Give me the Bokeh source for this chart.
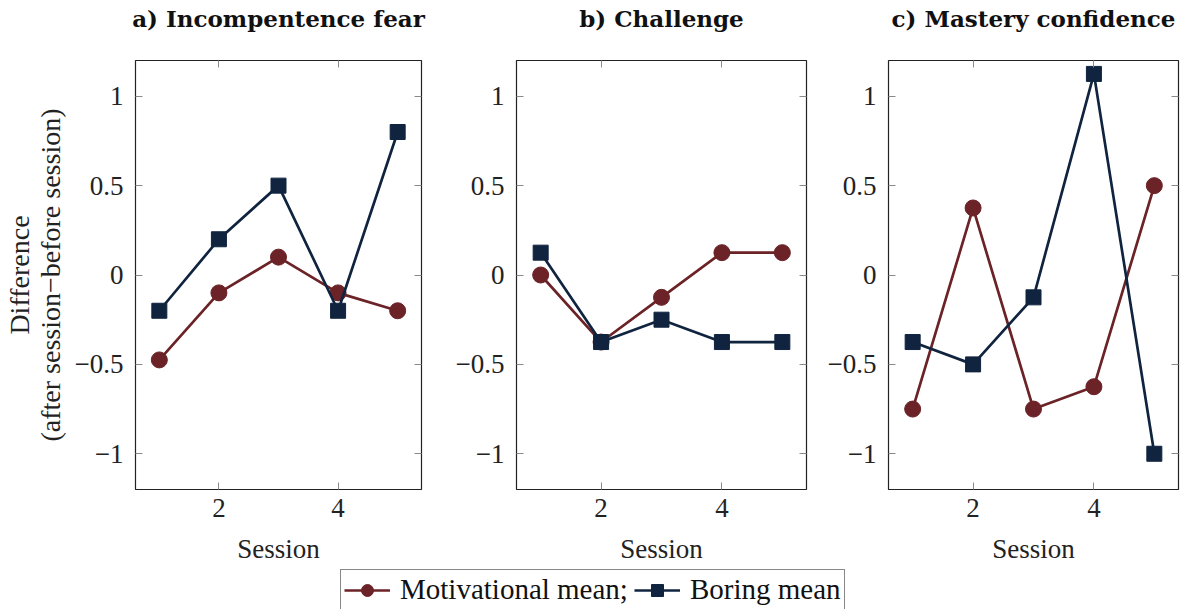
from bokeh.plotting import figure
from bokeh.models import Range1d, FixedTicker, LinearAxis, Legend, LegendItem
from bokeh.layouts import row, column
from bokeh.embed import file_html
from bokeh.resources import INLINE

sessions = [1, 2, 3, 4, 5]
titles = ["a) Incompentence fear", "b) Challenge", "c) Mastery confidence"]
motivational_a = [-0.475, -0.1, 0.1, -0.1, -0.2]
boring_a = [-0.2, 0.2, 0.5, -0.2, 0.8]
motivational_b = [0.0, -0.375, -0.125, 0.125, 0.125]
boring_b = [0.125, -0.375, -0.25, -0.375, -0.375]
motivational_c = [-0.75, 0.375, -0.75, -0.625, 0.5]
boring_c = [-0.375, -0.5, -0.125, 1.125, -1.0]
x_ticks = [2, 4]
y_ticks = [-1, -0.5, 0, 0.5, 1]
y_tick_labels = {-1: "\u22121", -0.5: "\u22120.5", 0: "0", 0.5: "0.5", 1: "1"}
series_names = ["Motivational mean;", "Boring mean"]

RED = "#6B2327"
NAVY = "#10243F"
FONT = "Liberation Serif"
TFONT = "DejaVu Serif"
TICKC = "#8a8a8a"


def style_axis(ax, labels=True):
    ax.axis_line_color = None
    ax.major_tick_in = 7
    ax.major_tick_out = 0
    ax.minor_tick_line_color = None
    ax.major_tick_line_color = TICKC
    ax.major_tick_line_width = 1
    ax.major_label_text_font = FONT
    ax.major_label_text_font_size = "27px"
    ax.major_label_text_color = "#222222"
    ax.axis_label_text_font = FONT
    ax.axis_label_text_font_size = "27px"
    ax.axis_label_text_font_style = "normal"
    ax.axis_label_text_color = "#222222"
    ax.axis_label_text_line_height = 1.0
    if not labels:
        ax.major_label_text_color = None
        ax.major_label_text_font_size = "1px"
        ax.major_label_standoff = 0


def panel(title, motiv, boring, width, left, right, ylabel=None):
    p = figure(width=width, height=566, output_backend="svg", toolbar_location=None,
               x_range=Range1d(0.6, 5.4), y_range=Range1d(-1.2, 1.2),
               min_border_left=left, min_border_right=right,
               min_border_top=59, min_border_bottom=77,
               x_axis_location=None, y_axis_location=None)
    # trailing empty line lifts the title away from the frame
    p.title.text = title + "\n"
    p.title.align = "center"
    p.title.text_font = TFONT
    p.title.text_font_size = "23px"
    p.title.text_font_style = "bold"
    p.title.text_color = "#111111"
    p.title.text_line_height = 1.0
    p.title.standoff = 4
    p.grid.visible = False
    p.outline_line_color = "#222222"
    p.outline_line_width = 1.2
    p.background_fill_color = "white"
    p.border_fill_color = "white"

    xb = LinearAxis(ticker=FixedTicker(ticks=x_ticks), axis_label="Session")
    style_axis(xb)
    xb.major_label_standoff = 9
    xb.axis_label_standoff = 14
    p.add_layout(xb, "below")
    xt = LinearAxis(ticker=FixedTicker(ticks=x_ticks))
    style_axis(xt, labels=False)
    p.add_layout(xt, "above")

    yl = LinearAxis(ticker=FixedTicker(ticks=y_ticks), major_label_overrides=y_tick_labels)
    style_axis(yl)
    yl.major_label_standoff = 12
    if ylabel:
        yl.axis_label = ylabel
        yl.axis_label_standoff = 6
        yl.axis_label_text_font_size = "28px"
    p.add_layout(yl, "left")
    yr = LinearAxis(ticker=FixedTicker(ticks=y_ticks))
    style_axis(yr, labels=False)
    p.add_layout(yr, "right")

    p.line(sessions, motiv, line_color=RED, line_width=2.7)
    p.scatter(sessions, motiv, marker="circle", size=16, fill_color=RED, line_color=RED)
    p.line(sessions, boring, line_color=NAVY, line_width=2.7)
    p.scatter(sessions, boring, marker="square", size=15, fill_color=NAVY, line_color=NAVY)
    return p


p1 = panel(titles[0], motivational_a, boring_a, 431, 131, 10,
           ylabel="Difference\n(after session\u2212before session)")
p2 = panel(titles[1], motivational_b, boring_b, 385, 85, 10)
p3 = panel(titles[2], motivational_c, boring_c, 375, 72, 13)

lg = figure(width=1191, height=43, output_backend="svg", toolbar_location=None,
            x_range=Range1d(0, 1), y_range=Range1d(0, 1),
            x_axis_type=None, y_axis_type=None, min_border=0)
lg.outline_line_color = None
lg.grid.visible = False
r1 = lg.line([5, 6], [5, 6], line_color=RED, line_width=2.7)
s1 = lg.scatter([5], [5], marker="circle", size=15, fill_color=RED, line_color=RED)
r2 = lg.line([5, 6], [5, 6], line_color=NAVY, line_width=2.7)
s2 = lg.scatter([5], [5], marker="square", size=14, fill_color=NAVY, line_color=NAVY)
legend = Legend(items=[LegendItem(label=series_names[0], renderers=[r1, s1]),
                       LegendItem(label=series_names[1], renderers=[r2, s2])],
                orientation="horizontal", location=(340, -1))
legend.label_text_font = FONT
legend.label_text_font_size = "29px"
legend.label_text_color = "#111111"
legend.glyph_width = 46
legend.glyph_height = 30
legend.label_standoff = 10
legend.spacing = 6
legend.padding = 3
legend.margin = 0
legend.border_line_color = "#111111"
legend.border_line_width = 1.2
legend.background_fill_alpha = 1
lg.add_layout(legend)

layout = column(row(p1, p2, p3), lg)
open("out.html", "w").write(file_html(layout, INLINE))
